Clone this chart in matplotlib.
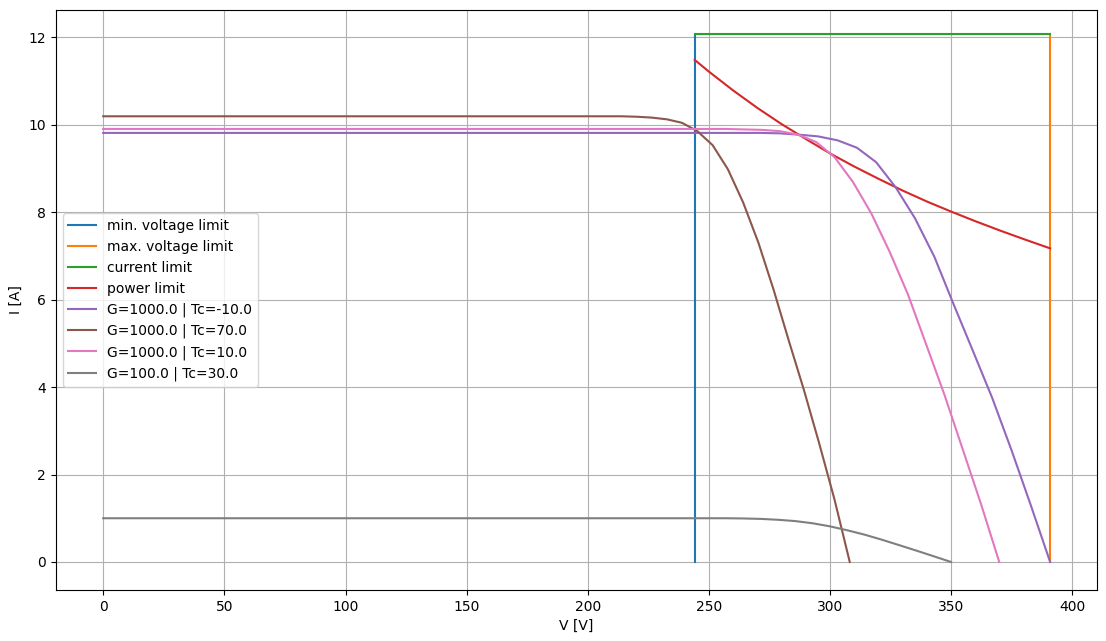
import matplotlib
matplotlib.use("Agg")
import matplotlib.pyplot as plt

# Inverter operating window
v_min_limit = 244.1   # V
v_max_limit = 390.8   # V
i_max_limit = 12.06   # A

# Power limit curve (I at constant power)
power_v = [244.1, 250.0, 260.0, 270.0, 280.0, 290.0, 300.0, 310.0, 320.0,
           330.0, 340.0, 350.0, 360.0, 370.0, 380.0, 390.8]
power_i = [11.48, 11.21, 10.78, 10.38, 10.01, 9.67, 9.34, 9.04, 8.76,
           8.49, 8.24, 8.01, 7.79, 7.58, 7.38, 7.17]

# I-V curves of the PV string for several conditions
v_g1000_tm10 = [0, 263.2, 271.2, 279.2, 287.1, 295.1, 303.1, 311.1, 319.0, 327.0,
                335.0, 343.0, 350.9, 358.9, 366.9, 374.9, 382.8, 390.8]
i_g1000_tm10 = [9.81, 9.81, 9.81, 9.80, 9.77, 9.73, 9.64, 9.47, 9.14, 8.57,
                7.86, 6.98, 5.90, 4.83, 3.75, 2.55, 1.30, 0.0]

v_g1000_t70 = [0, 213.8, 220.1, 226.4, 232.7, 238.9, 245.2, 251.5, 257.8, 264.1,
               270.4, 276.7, 283.0, 289.2, 295.5, 301.8, 308.1]
i_g1000_t70 = [10.19, 10.19, 10.18, 10.16, 10.12, 10.04, 9.85, 9.53, 8.98, 8.22,
               7.30, 6.22, 5.05, 3.93, 2.71, 1.43, 0.0]

v_g1000_t10 = [0, 256.6, 264.1, 271.7, 279.2, 286.8, 294.3, 301.9, 309.4, 317.0,
               324.5, 332.1, 339.6, 347.2, 354.7, 362.3, 369.8]
i_g1000_t10 = [9.90, 9.90, 9.89, 9.88, 9.85, 9.77, 9.60, 9.25, 8.69, 7.97,
               7.10, 6.12, 4.98, 3.82, 2.58, 1.32, 0.0]

v_g100_t30 = [0, 250.0, 257.1, 264.2, 271.4, 278.5, 285.6, 292.8, 299.9, 307.1,
              314.2, 321.3, 328.5, 335.6, 342.8, 349.9]
i_g100_t30 = [1.0, 1.0, 1.0, 0.995, 0.985, 0.965, 0.935, 0.885, 0.815, 0.725,
              0.625, 0.51, 0.385, 0.26, 0.13, 0.0]

curves = [
    ("G=1000.0 | Tc=-10.0", v_g1000_tm10, i_g1000_tm10),
    ("G=1000.0 | Tc=70.0", v_g1000_t70, i_g1000_t70),
    ("G=1000.0 | Tc=10.0", v_g1000_t10, i_g1000_t10),
    ("G=100.0 | Tc=30.0", v_g100_t30, i_g100_t30),
]

fig = plt.figure(figsize=(11.06, 6.41), dpi=100)
ax = fig.add_axes([0.0505, 0.0796, 0.9418, 0.9048])

ax.plot([v_min_limit, v_min_limit], [0, i_max_limit], label="min. voltage limit")
ax.plot([v_max_limit, v_max_limit], [0, i_max_limit], label="max. voltage limit")
ax.plot([v_min_limit, v_max_limit], [i_max_limit, i_max_limit], label="current limit")
ax.plot(power_v, power_i, label="power limit")
for label, v, i in curves:
    ax.plot(v, i, label=label)

ax.set_ylim(-0.64, 12.62)
ax.set_xlabel("V [V]")
ax.set_ylabel("I [A]")
ax.grid(True)
ax.legend(loc="center left")

fig.savefig("out.png", dpi=100)
